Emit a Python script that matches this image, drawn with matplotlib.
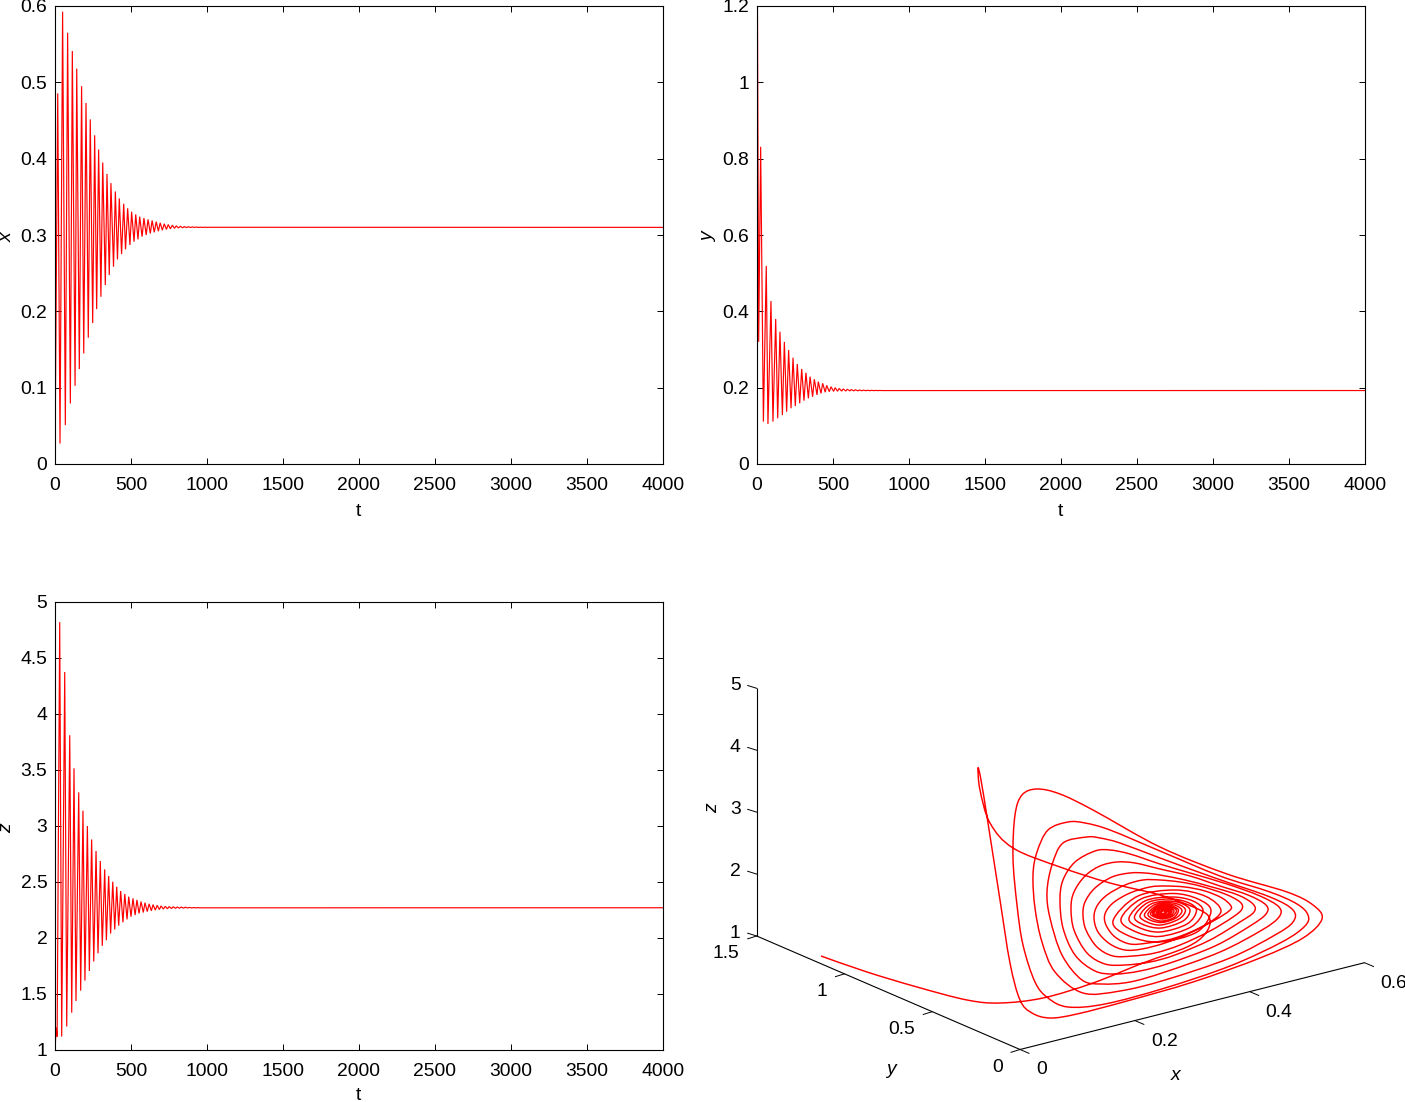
import numpy as np
import matplotlib
matplotlib.use('Agg')
import matplotlib.pyplot as plt
from matplotlib.path import Path
from matplotlib.patches import PathPatch

plt.rcParams['font.family'] = ['Liberation Sans', 'DejaVu Sans']
plt.rcParams['font.size'] = 13.9

W, H = 1405, 1102
RED = '#ff0000'

# turning points of the three time series
x_peak_t = [18, 50, 83, 114, 143, 175, 204, 232, 261, 287, 314, 342, 368, 397, 423, 452, 478, 504, 531, 557,
            585, 612, 639, 666, 692, 719, 745, 772, 798, 825, 851, 878, 904, 931, 957, 984, 1010]
x_peak = [.4856, .5926, .565, .541, .518, .495, .473, .4515, .4306, .412, .395, .380, .368, .357, .348, .341,
          .335, .3305, .327, .324, .3222, .3205, .319, .3175, .316, .3147, .3137, .3128, .312, .3114, .311,
          .3108, .3106, .3104, .3103, .3102, .3101]
x_trough_t = [0, 33, 68, 101, 132, 160, 189, 219, 248, 274, 302, 331, 357, 385, 411, 438, 464, 493, 520, 546,
              573, 600, 627, 653, 680, 706, 733, 759, 786, 812, 839, 865, 892, 918, 944, 970, 997]
x_trough = [.012, .0268, .0509, .0793, .1024, .1243, .1448, .1654, .1846, .2029, .2191, .2344, .2475, .2584,
            .268, .275, .2812, .2868, .2912, .2943, .2978, .300, .302, .3035, .305, .3063, .3073, .3082, .3088,
            .3092, .3095, .3097, .3098, .3099, .3099, .30995, .31]
x_rest = .31

y_peak_t = [0, 3, 24, 61, 92, 123, 151, 180, 208, 237, 265, 294, 322, 349, 377, 403, 432, 458, 487, 514, 541, 567,
            594, 620, 647, 673, 700, 726, 753, 779, 806]
y_peak = [1.2, 1.2, .831, .519, .427, .38, .3467, .32, .2987, .2786, .262, .249, .239, .229, .222, .2157, .2114,
          .206, .2025, .2, .198, .1968, .1958, .195, .1944, .1939, .1935, .1932, .193, .1928, .1927]
y_trough_t = [11, 42, 72, 105, 136, 167, 195, 224, 252, 281, 309, 338, 366, 395, 421, 449, 476, 504, 530, 557,
              584, 611, 637, 664, 690, 717, 743, 770, 796, 823]
y_trough = [.32, .111, .1048, .111, .1197, .128, .137, .146, .152, .159, .166, .172, .176, .181, .185, .188, .1895,
            .1902, .1907, .191, .1913, .1915, .1917, .1918, .1919, .192, .1921, .1922, .1923, .1924]
y_rest = .1925

z_peak_t = [8, 31, 64, 97, 125, 156, 184, 213, 241, 270, 298, 327, 353, 380, 406, 432, 459, 485, 513, 539, 566,
            592, 619, 645, 672, 698, 725, 751, 778, 804, 831, 857, 884, 910, 937]
z_peak = [1.2, 4.82, 4.375, 3.81, 3.515, 3.30, 3.137, 3.0, 2.88, 2.777, 2.6875, 2.613, 2.554, 2.503, 2.458, 2.42,
          2.393, 2.369, 2.354, 2.34, 2.325, 2.315, 2.305, 2.298, 2.292, 2.287, 2.283, 2.281, 2.279, 2.277, 2.276,
          2.275, 2.273, 2.272, 2.271]
z_trough_t = [0, 14, 44, 77, 110, 138, 169, 197, 226, 255, 283, 311, 338, 366, 393, 419, 447, 474, 500, 527, 553,
              581, 607, 634, 660, 687, 713, 740, 766, 793, 819, 846, 872, 899, 925, 951]
z_trough = [1.0, 1.12, 1.12, 1.21, 1.333, 1.4375, 1.53, 1.62, 1.705, 1.79, 1.863, 1.93, 1.98, 2.04, 2.076, 2.11,
            2.14, 2.166, 2.19, 2.2045, 2.219, 2.228, 2.236, 2.243, 2.249, 2.254, 2.258, 2.261, 2.263, 2.265, 2.266,
            2.267, 2.268, 2.2685, 2.269, 2.2695]
z_rest = 2.27

t_ticks = [0, 500, 1000, 1500, 2000, 2500, 3000, 3500, 4000]
t_end = 4000

# 3d panel box
box_x_ticks = [0, 0.2, 0.4, 0.6]
box_x_labels = ['0', '0.2', '0.4', '0.6']
box_y_ticks = [0, 0.5, 1, 1.5]
box_y_labels = ['0', '0.5', '1', '1.5']
box_z_ticks = [1, 2, 3, 4, 5]
box_z_labels = ['1', '2', '3', '4', '5']

# the trajectory as it appears in the projected view of the 3d panel (picture units)
orbit = [(821,956),(867,972),(917,987),(967,1000),(1000,1003),(1043,998),(1093,983),(1143,963),(1187,947),(1205,934),
         (1210,920),(1200,910),(1160,895),(1110,883),(1060,867),(1013,848),(990,823),(980,790),(978,768),(981,780),
         (988,823),(1000,900),(1010,963),(1020,1000),(1032,1013),(1050,1018),
         (1077,1014),(1127,1001),(1193,982),(1260,958),(1303,938),(1322,919),(1313,905),(1287,892),(1227,874),
         (1160,847),(1093,810),(1060,794),(1037,789),(1022,795),(1015,815),(1013,858),(1017,905),(1023,945),
         (1035,982),(1048,998),(1068,1007),
         (1105,1004),(1165,988),(1230,966),(1282,942),(1305,926),(1308,915),(1297,904),(1270,892),(1220,876),
         (1160,851),(1110,830),(1085,823),(1068,822),(1048,830),(1037,852),(1033,875),(1035,908),(1042,942),
         (1055,972),(1083,993),
         (1120,991),(1165,980),(1230,958),(1275,935),(1293,922),(1293,910),(1270,897),(1215,878),(1160,858),
         (1120,843),(1100,838),(1087,837),(1063,843),(1052,865),(1047,892),(1050,918),(1062,955),(1082,980),(1102,984),
         (1130,982),(1165,972),(1220,952),(1262,930),(1279,917),(1279,907),(1260,896),(1227,884),(1190,873),(1160,864),
         (1130,854),(1110,850),(1095,851),(1075,862),(1063,880),(1060,900),(1063,928),(1075,955),(1095,971),(1115,974),
         (1140,971),(1170,963),(1215,946),(1250,926),(1266,914),(1266,905),(1248,895),(1220,886),(1190,876),(1160,869),
         (1135,863),(1117,862),(1100,866),(1085,876),(1074,892),(1071,908),(1074,930),(1087,953),(1105,964),(1125,965),
         (1150,962),(1175,955),(1210,940),(1240,922),(1254,912),(1253,904),(1238,895),(1212,887),(1185,880),(1160,875),
         (1145,873),(1130,873),(1112,877),(1095,888),(1085,902),(1083,915),(1086,930),(1097,947),(1113,956),(1133,956),
         (1155,953),(1180,945),(1210,931),(1233,917),(1242,909),(1240,902),(1225,894),(1200,886),(1180,882),(1160,880),
         (1143,880),(1125,885),(1107,895),(1097,906),(1094,918),(1098,932),(1110,944),(1125,950),(1142,949),
         (1165,943),(1190,933),(1215,920),(1229,911),(1231,906),(1222,898),(1205,891),(1185,887),(1165,886),(1150,887),
         (1130,893),(1113,903),(1105,914),(1106,925),(1115,937),(1130,944),(1148,943),
         (1175,938),(1205,925),(1221,911),(1206,896.5),(1175,890),(1137,896.5),(1113,921),(1128,935.5),(1159,942),
         (1197,932),(1211,911),(1198,899),(1173,893.5),(1141,899),(1121,919),(1134,931),(1159,936.5),
         (1191,927),(1203,911),(1193,901),(1172,897),(1145,901),(1129,918),(1139,927.5),(1160,932),
         (1187,924),(1196.5,910.5),(1188,902.5),(1170,899),(1148,902.5),(1134.5,916.5),(1143,924.5),(1161,928),
         (1183,921),(1190,910.5),(1183,904),(1169,901),(1151,904),(1140,915.5),(1147,922),(1161,925),
         (1179,919),(1185.5,910.5),(1180,905),(1168,902.5),(1154,905),(1144.5,914.5),(1150,920),(1162,922.5),
         (1176,918),(1182,911),(1177,906),(1167.5,904),(1156,906),(1148,914),(1153,919),(1162.5,921),
         (1174,917.5),(1178.5,910.5),(1174.5,907),(1166.5,905),(1157,907),(1150.5,913.5),(1154.5,917),(1162.5,919),
         (1172,916.5),(1176.5,911),(1173,907.5),(1166,906),(1158,907.5),(1152.5,913),(1156,916.5),(1163,918),
         (1171,915.5),(1174,911),(1171,908),(1165.5,907),(1158.5,908),(1154,913),(1157,916),(1162.5,917),
         (1169.5,915),(1172,911),(1170,909),(1165,908),(1159.5,909),(1156,913),(1158,915),(1163,916),
         (1168.5,914.5),(1170.5,911.5),(1168.5,909.5),(1165,909),(1160.5,909.5),(1157.5,912.5),(1159.5,914.5),(1163,915),
         (1167.5,914),(1169,911.5),(1165,909.5),(1159,912.5),(1163,914.5),(1167.5,911.5),(1164.5,910.5),(1160.5,912.5),
         (1163.5,913.5),(1166,912),(1164,912)]


def series(peak_t, peak, trough_t, trough, rest):
    t = np.array(peak_t + trough_t + [t_end], dtype=float)
    v = np.array(peak + trough + [rest], dtype=float)
    order = np.argsort(t, kind='stable')
    return t[order], v[order]


def panel(rect, t, v, ylim, yticks, yticklabels, ylabel, t_gap=47.5):
    left, top, right, bottom = rect
    ax = fig.add_axes([left / W, 1 - bottom / H, (right - left) / W, (bottom - top) / H])
    ax.plot(t, v, color=RED, lw=0.85, solid_joinstyle='miter')
    ax.set_xlim(0, t_end)
    ax.set_ylim(*ylim)
    ax.set_xticks(t_ticks)
    ax.set_yticks(yticks)
    ax.set_yticklabels(yticklabels)
    ax.tick_params(direction='in', length=4.4, width=0.7, top=True, right=True, pad=5.5)
    ax.tick_params(axis='x', pad=9)
    for s in ax.spines.values():
        s.set_linewidth(0.8)
    ax.set_xlabel('t', va='center')
    ax.xaxis.set_label_coords(0.499, -t_gap / (bottom - top))
    ax.set_ylabel(ylabel, style='italic', va='center')
    ax.yaxis.set_label_coords(-48 / (right - left), 0.495)
    return ax


def to_screen(x, y, z):
    # gnuplot style view of the box, corner x=0 y=0 z=1 sits at (1020, 1049.5)
    u = 1020 + x / 0.6 * 344.5 - y / 1.5 * 263.3
    v = 1049.5 - x / 0.6 * 86.8 - y / 1.5 * 113.5 - (z - 1) / 4 * 247.7
    return u, v


def smooth_path(points):
    # catmull-rom through the read points, only so the line does not look faceted
    p = np.array(points, dtype=float)
    verts = [p[0]]
    codes = [Path.MOVETO]
    for i in range(len(p) - 1):
        p0 = p[max(i - 1, 0)]
        p1, p2 = p[i], p[i + 1]
        p3 = p[min(i + 2, len(p) - 1)]
        verts += [p1 + (p2 - p0) / 6, p2 - (p3 - p1) / 6, p2]
        codes += [Path.CURVE4] * 3
    return Path(verts, codes)


fig = plt.figure(figsize=(W / 100, H / 100), dpi=100)

t, v = series(x_peak_t, x_peak, x_trough_t, x_trough, x_rest)
panel((55, 6, 663, 464), t, v, (0, 0.6), [0, .1, .2, .3, .4, .5, .6],
      ['0', '0.1', '0.2', '0.3', '0.4', '0.5', '0.6'], 'x')

t, v = series(y_peak_t, y_peak, y_trough_t, y_trough, y_rest)
panel((757, 6, 1365, 464), t, v, (0, 1.2), [0, .2, .4, .6, .8, 1, 1.2],
      ['0', '0.2', '0.4', '0.6', '0.8', '1', '1.2'], 'y')

t, v = series(z_peak_t, z_peak, z_trough_t, z_trough, z_rest)
panel((55, 602, 663, 1050), t, v, (1, 5), [1, 1.5, 2, 2.5, 3, 3.5, 4, 4.5, 5],
      ['1', '1.5', '2', '2.5', '3', '3.5', '4', '4.5', '5'], 'z', t_gap=45)

# 3d panel, drawn in picture units on a full figure axes
ax3 = fig.add_axes([0, 0, 1, 1])
ax3.set_xlim(0, W)
ax3.set_ylim(H, 0)
ax3.axis('off')
ax3.patch.set_alpha(0)

edges = [((0, 0, 1), (0.6, 0, 1)), ((0, 0, 1), (0, 1.5, 1)), ((0, 1.5, 1), (0, 1.5, 5))]
for a, b in edges:
    ua, va = to_screen(*a)
    ub, vb = to_screen(*b)
    ax3.plot([ua, ub], [va, vb], color='black', lw=0.8, solid_capstyle='butt')

for val, lab in zip(box_x_ticks, box_x_labels):
    u, w = to_screen(val, 0, 1)
    ax3.plot([u, u + 9], [w, w + 3.8], color='black', lw=0.7)
    ax3.text(u + 16, w + 20.5, lab, ha='left', va='center')
for val, lab in zip(box_y_ticks, box_y_labels):
    u, w = to_screen(0, val, 1)
    ax3.plot([u, u - 9], [w, w + 2.8], color='black', lw=0.7)
    ax3.text(u - 17, w + 18, lab, ha='right', va='center')
for val, lab in zip(box_z_ticks, box_z_labels):
    u, w = to_screen(0, 1.5, val)
    ax3.plot([u, u - 9], [w, w - 2.8], color='black', lw=0.7)
    ax3.text(u - 16, w - 2.5, lab, ha='right', va='center')

ax3.text(1176, 1075, 'x', style='italic', ha='center', va='center')
ax3.text(891, 1069, 'y', style='italic', ha='center', va='center')
ax3.text(713, 808, 'z', style='italic', rotation=90, ha='center', va='center')

ax3.add_patch(PathPatch(smooth_path(orbit), fc='none', ec=RED, lw=1.05))

fig.savefig('out.png', dpi=100)
